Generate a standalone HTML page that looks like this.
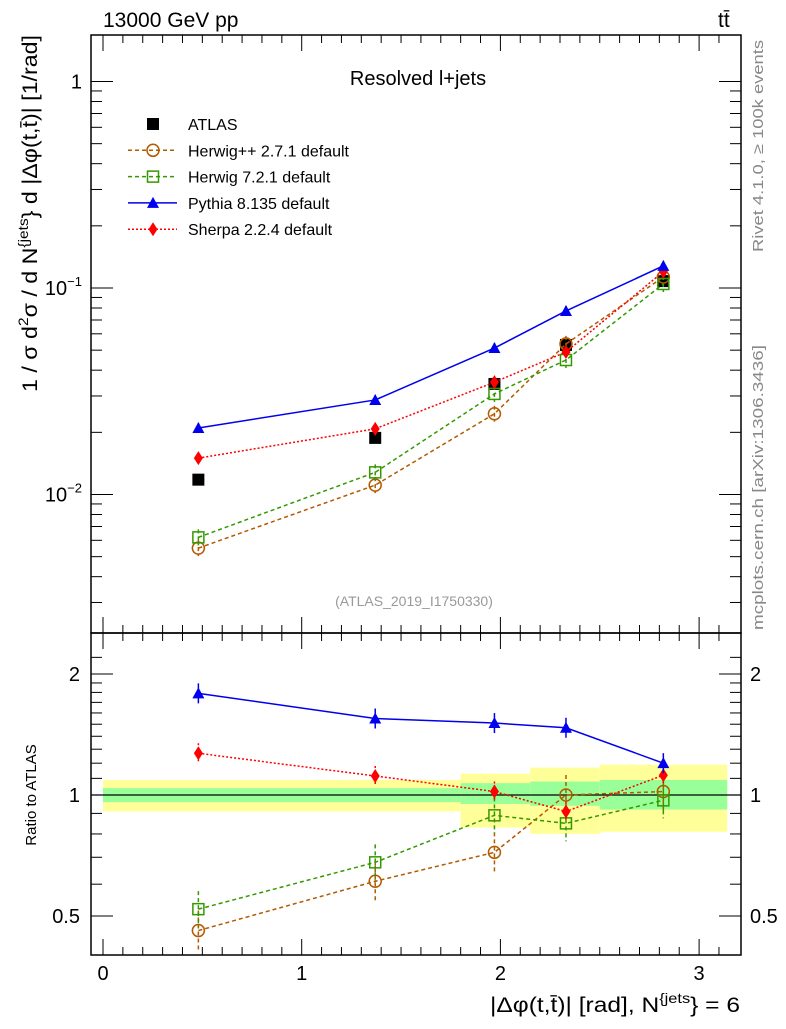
<!DOCTYPE html>
<html><head><meta charset="utf-8"><style>
body{margin:0;background:#fff;width:786px;height:1024px;overflow:hidden}
svg{font-family:"Liberation Sans",sans-serif}
</style></head><body>
<svg id="c" width="786" height="1024" viewBox="0 0 786 1024" xmlns="http://www.w3.org/2000/svg">
<g id="bands"></g>
<g id="axes"></g>
<g id="series"></g>
<text x="103" y="27" font-size="21">13000 GeV pp</text>
<text x="718" y="27" font-size="21">tt̄</text>
<text x="418" y="85" font-size="20" text-anchor="middle">Resolved l+jets</text>
<text x="414" y="606" font-size="14" fill="#999" text-anchor="middle">(ATLAS_2019_I1750330)</text>
<text transform="translate(37,392) rotate(-90)" font-size="21" textLength="357" lengthAdjust="spacingAndGlyphs">1 / σ d<tspan dy="-9" font-size="14">2</tspan><tspan dy="9">σ / d N</tspan><tspan dy="-9" font-size="14">{jets</tspan><tspan dy="9">} d |Δφ(t,t̄)| [1/rad]</tspan></text>
<text transform="translate(36,795) rotate(-90)" font-size="15" text-anchor="middle">Ratio to ATLAS</text>
<text x="740" y="1012" font-size="21" text-anchor="end" textLength="250" lengthAdjust="spacingAndGlyphs">|Δφ(t,t̄)| [rad], N<tspan dy="-9" font-size="14">{jets</tspan><tspan dy="9">} = 6</tspan></text>
<text transform="translate(763,252) rotate(-90)" font-size="15" fill="#888" textLength="212" lengthAdjust="spacingAndGlyphs">Rivet 4.1.0, ≥ 100k events</text>
<text transform="translate(763,630) rotate(-90)" font-size="15" fill="#888" textLength="285" lengthAdjust="spacingAndGlyphs">mcplots.cern.ch [arXiv:1306.3436]</text>
<g id="legend"></g>
</svg>
<script>
const xCenters=[0.48,1.37,1.97,2.33,2.82];
const atlas=[0.0118,0.0188,0.0343,0.053,0.108];
const herwigpp=[0.0055,0.0111,0.0246,0.0536,0.113];
const herwig7=[0.0062,0.0128,0.0307,0.0448,0.1046];
const pythia=[0.021,0.0287,0.0512,0.0774,0.128];
const sherpa=[0.015,0.0208,0.035,0.049,0.12];
const rHerwigpp=[0.46,0.61,0.72,1.0,1.02];
const rHerwig7=[0.52,0.68,0.89,0.85,0.97];
const rPythia=[1.79,1.55,1.51,1.47,1.20];
const rSherpa=[1.27,1.115,1.02,0.91,1.12];
const binEdges=[0,1.8,2.15,2.5,3.1416];
const bandYellowHi=[1.09,1.13,1.17,1.19];
const bandYellowLo=[0.91,0.83,0.80,0.81];
const bandGreenHi=[1.04,1.07,1.08,1.09];
const bandGreenLo=[0.96,0.95,0.94,0.92];
const xTicks=[0,1,2,3];
const ratioTicks=[2,1,0.5];

const NS='http://www.w3.org/2000/svg';
const X=v=>103+v*198.7;
const Y=v=>288-206.5*Math.log10(v/0.1);
const R=v=>795-121*Math.log2(v);
const L=91,RT=741,T=35,MB=633,B=955;
function mk(tag,attrs,parent){const e=document.createElementNS(NS,tag);for(const k in attrs)e.setAttribute(k,attrs[k]);(parent||document.getElementById('c')).appendChild(e);return e;}
const gA=document.getElementById('axes'),gS=document.getElementById('series'),gB=document.getElementById('bands'),gL=document.getElementById('legend');

for(let i=0;i<4;i++){
 let e=mk('rect',{x:X(binEdges[i]),y:R(bandYellowHi[i]),width:X(binEdges[i+1])-X(binEdges[i]),height:R(bandYellowLo[i])-R(bandYellowHi[i]),fill:'#ffff99'},gB);
 
 
 e=mk('rect',{x:X(binEdges[i]),y:R(bandGreenHi[i]),width:X(binEdges[i+1])-X(binEdges[i]),height:R(bandGreenLo[i])-R(bandGreenHi[i]),fill:'#99ff99'},gB);
 
 
}
let ln=mk('line',{x1:L,x2:RT,y1:R(1),y2:R(1),stroke:'#000','stroke-width':1.3},gB);



let f=mk('rect',{x:L,y:T,width:RT-L,height:MB-T,fill:'none',stroke:'#000','stroke-width':1.5},gA);


f=mk('rect',{x:L,y:MB,width:RT-L,height:B-MB,fill:'none',stroke:'#000','stroke-width':1.5},gA);



for(let v=0;v<=3.2;v+=0.1){
 const x=X(v);if(x>RT)break;
 const major=Math.abs(v-Math.round(v))<1e-6;const len=major?16:8;
 mk('line',{x1:x,x2:x,y1:T,y2:T+len,stroke:'#000'},gA);
 mk('line',{x1:x,x2:x,y1:MB,y2:MB-len,stroke:'#000'},gA);
 mk('line',{x1:x,x2:x,y1:MB,y2:MB+len,stroke:'#000'},gA);
 mk('line',{x1:x,x2:x,y1:B,y2:B-len,stroke:'#000'},gA);
}
xTicks.forEach(v=>{const t=mk('text',{x:X(v),y:980,'font-size':20,'text-anchor':'middle'},gA);t.textContent=v;
 
 });

for(let d=-3;d<=0;d++){for(let m=1;m<10;m++){const v=m*Math.pow(10,d);const y=Y(v);if(y<T||y>MB)continue;
 const len=m==1?22:11;mk('line',{x1:L,x2:L+len,y1:y,y2:y,stroke:'#000'},gA);mk('line',{x1:RT,x2:RT-len,y1:y,y2:y,stroke:'#000'},gA);}}
[[1,'1'],[0.1,'−1'],[0.01,'−2']].forEach((p,i)=>{const t=mk('text',{x:82,y:Y(p[0])+7,'font-size':20,'text-anchor':'end'},gA);
 
 
 if(i==0)t.textContent='1';else{t.textContent='10';const s=mk('tspan',{dy:-9,'font-size':13},t);s.textContent=p[1];mk('tspan',{dy:9,'font-size':13},t).textContent='';}});

[0.5,0.6,0.7,0.8,0.9,1,1.1,1.2,1.3,1.4,1.5,1.6,1.7,1.8,1.9,2,2.2].forEach(v=>{const y=R(v);if(y<MB||y>B)return;
 const len=(v==0.5||v==1||v==2)?22:11;mk('line',{x1:L,x2:L+len,y1:y,y2:y,stroke:'#000'},gA);mk('line',{x1:RT,x2:RT-len,y1:y,y2:y,stroke:'#000'},gA);});
ratioTicks.forEach(v=>{let t=mk('text',{x:80,y:R(v)+7,'font-size':20,'text-anchor':'end'},gA);t.textContent=v;
 
 
 t=mk('text',{x:750,y:R(v)+7,'font-size':20},gA);t.textContent=v;
 
 });

function marker(type,x,y,col,g){
 if(type=='sq')return mk('rect',{x:x-6,y:y-6,width:12,height:12,fill:'#000'},g);
 if(type=='circ')return mk('circle',{cx:x,cy:y,r:6,fill:'none',stroke:col,'stroke-width':1.5},g);
 if(type=='osq')return mk('rect',{x:x-5.5,y:y-5.5,width:11,height:11,fill:'none',stroke:col,'stroke-width':1.5},g);
 if(type=='tri')return mk('path',{d:`M${x},${y-6}L${x+6},${y+5}L${x-6},${y+5}Z`,fill:col},g);
 if(type=='dia')return mk('path',{d:`M${x},${y-7}L${x+4.5},${y}L${x},${y+7}L${x-4.5},${y}Z`,fill:col},g);
}
function series(vals,Yf,col,dash,type,name,err){
 if(type!='sq'){const pl=mk('polyline',{points:vals.map((v,i)=>X(xCenters[i])+','+Yf(v)).join(' '),fill:'none',stroke:col,'stroke-width':1.5,'stroke-dasharray':dash},gS);
 
 }
 vals.forEach((v,i)=>{const x=X(xCenters[i]),y=Yf(v);
  if(err){const e=mk('line',{x1:x,x2:x,y1:y-err,y2:y+err,stroke:col,'stroke-width':1.5,'stroke-dasharray':dash},gS);
   
   }
  const m=marker(type,x,y,col,gS);
  
  });
}
series(atlas,Y,'#000','','sq','atlas',0);
series(herwigpp,Y,'#b35900','4,3','circ','herwigpp',8);
series(herwig7,Y,'#339900','4,3','osq','herwig7',8);
series(sherpa,Y,'#ff0000','2,2','dia','sherpa',4);
series(pythia,Y,'#0000ee','','tri','pythia',5);
series(rHerwigpp,R,'#b35900','4,3','circ','ratio-herwigpp',20);
series(rHerwig7,R,'#339900','4,3','osq','ratio-herwig7',18);
series(rSherpa,R,'#ff0000','2,2','dia','ratio-sherpa',10);
series(rPythia,R,'#0000ee','','tri','ratio-pythia',10);

const legNames=['ATLAS','Herwig++ 2.7.1 default','Herwig 7.2.1 default','Pythia 8.135 default','Sherpa 2.2.4 default'];
const legCols=['#000','#b35900','#339900','#0000ee','#ff0000'];
const legTypes=['sq','circ','osq','tri','dia'];
const legDash=['','4,3','4,3','','2,2'];
legNames.forEach((n,i)=>{const y=124+i*26.3;
 if(i>0){const l=mk('line',{x1:128,x2:177,y1:y,y2:y,stroke:legCols[i],'stroke-width':1.5,'stroke-dasharray':legDash[i]},gL);
  
  }
 const m=marker(legTypes[i],153,y,legCols[i],gL);
 
 
 const t=mk('text',{x:188,y:y+6,'font-size':16},gL);t.textContent=n;
 
 });
</script>
</body></html>
